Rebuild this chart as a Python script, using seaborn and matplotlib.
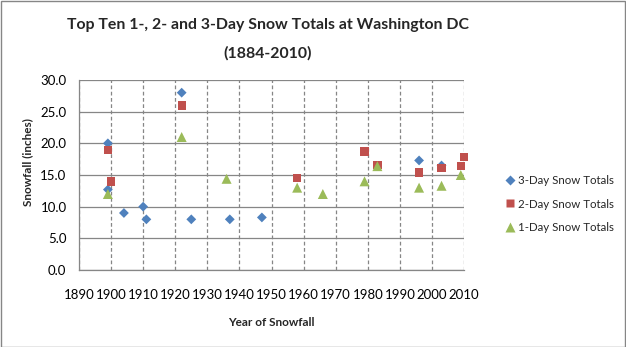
import matplotlib
matplotlib.use("Agg")
import matplotlib.pyplot as plt
import seaborn as sns
import pandas as pd
from matplotlib.patches import Rectangle
from matplotlib.lines import Line2D

# Data
years_3day = [1899, 1899, 1904, 1910, 1911, 1922, 1925, 1937, 1947, 1996, 2003]
snow_3day = [20.0, 12.7, 9.0, 10.0, 8.0, 28.0, 8.0, 8.0, 8.3, 17.3, 16.5]

years_2day = [1899, 1900, 1922, 1958, 1979, 1983, 1996, 2003, 2009, 2010]
snow_2day = [19.0, 14.0, 26.0, 14.5, 18.7, 16.6, 15.4, 16.1, 16.4, 17.8]

years_1day = [1899, 1922, 1936, 1958, 1966, 1979, 1983, 1996, 2003, 2009]
snow_1day = [12.0, 21.0, 14.4, 13.0, 12.0, 14.0, 16.4, 13.0, 13.3, 15.0]

series_names = ["3-Day Snow Totals", "2-Day Snow Totals", "1-Day Snow Totals"]
x_ticks = [1890, 1900, 1910, 1920, 1930, 1940, 1950, 1960, 1970, 1980, 1990, 2000, 2010]
y_ticks = [0, 5, 10, 15, 20, 25, 30]
title_lines = ["Top Ten 1-, 2- and 3-Day Snow Totals at Washington DC", "(1884-2010)"]

colors = ["#4F81BD", "#C0504D", "#9BBB59"]
markers = ["D", "s", "^"]
msizes = [5.0, 6.0, 7.2]

df = pd.concat([
    pd.DataFrame({"year": years_3day, "snow": snow_3day, "series": series_names[0]}),
    pd.DataFrame({"year": years_2day, "snow": snow_2day, "series": series_names[1]}),
    pd.DataFrame({"year": years_1day, "snow": snow_1day, "series": series_names[2]}),
])

sns.set_style("white")
plt.rcParams["font.family"] = ["Lato", "DejaVu Sans"]

fig = plt.figure(figsize=(6.26, 3.47), dpi=100)
ax = fig.add_axes([79/626, 1-270/347, (464-79)/626, (270-80)/347])

for name, c, m, ms in zip(series_names, colors, markers, msizes):
    sub = df[df["series"] == name]
    sns.scatterplot(data=sub, x="year", y="snow", ax=ax, color=c, marker=m,
                    s=ms**2, edgecolor="none", linewidth=0, legend=False, zorder=3,
                    clip_on=False)

ax.set_xlim(1890, 2010)
ax.set_ylim(0, 30)
ax.set_xticks(x_ticks)
ax.set_yticks(y_ticks)
ax.set_yticklabels([f"{v:.1f}" for v in y_ticks])
ax.tick_params(axis="both", length=0, labelsize=9.5, colors="#000000")
ax.tick_params(axis="x", pad=14)
ax.tick_params(axis="y", pad=9)

ax.grid(axis="y", color="#868686", linewidth=0.9, linestyle="-")
ax.grid(axis="x", color="#868686", linewidth=0.9, linestyle=(0, (3, 2)))
ax.set_axisbelow(True)
for s in ["top", "right"]:
    ax.spines[s].set_visible(False)
for s in ["left", "bottom"]:
    ax.spines[s].set_color("#868686")
    ax.spines[s].set_linewidth(0.9)

ax.set_xlabel("Year of Snowfall", fontsize=8.5, fontweight="bold")
ax.set_ylabel("Snowfall (inches)", fontsize=8.5, fontweight="bold")
ax.xaxis.set_label_coords((271 - 79) / 385, -(322 - 270) / 190)
ax.yaxis.set_label_coords((28 - 79) / 385, (270 - 162) / 190)
ax.xaxis.label.set_va("center")
ax.yaxis.label.set_va("center")

for line, ypx in zip(title_lines, [25, 53]):
    fig.text(268/626, 1-ypx/347, line, ha="center", va="center",
             fontsize=11.4, fontweight="bold")

handles = [Line2D([0], [0], marker=m, color="none", markerfacecolor=c, markeredgecolor="none",
                  markersize=ms * 0.95) for c, m, ms in zip(colors, markers, msizes)]
fig.legend(handles, series_names, loc="center left", bbox_to_anchor=(494/626, 1-204/347),
           frameon=False, fontsize=8.3, handletextpad=0.2, labelspacing=1.05, handlelength=1.0)

fig.add_artist(Rectangle((0.5/626, 0.5/347), 1-1.5/626, 1-1.5/347, transform=fig.transFigure,
                         fill=False, edgecolor="#868686", linewidth=1))

fig.savefig("out.png", dpi=100)
